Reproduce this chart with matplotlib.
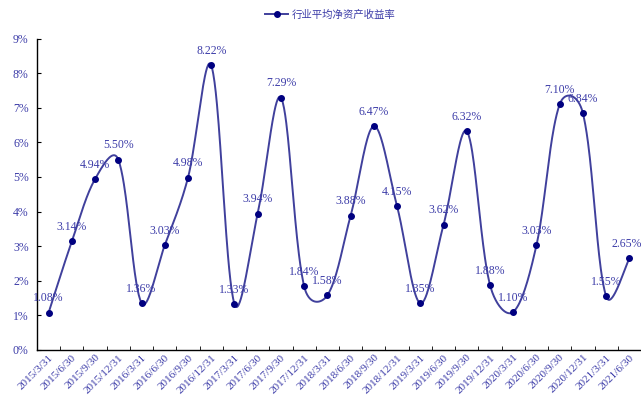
import numpy as np
import matplotlib
matplotlib.use("Agg")
import matplotlib.pyplot as plt

dates = ["2015/3/31", "2015/6/30", "2015/9/30", "2015/12/31",
         "2016/3/31", "2016/6/30", "2016/9/30", "2016/12/31",
         "2017/3/31", "2017/6/30", "2017/9/30", "2017/12/31",
         "2018/3/31", "2018/6/30", "2018/9/30", "2018/12/31",
         "2019/3/31", "2019/6/30", "2019/9/30", "2019/12/31",
         "2020/3/31", "2020/6/30", "2020/9/30", "2020/12/31",
         "2021/3/31", "2021/6/30"]
roe = [1.08, 3.14, 4.94, 5.50, 1.36, 3.03, 4.98, 8.22,
       1.33, 3.94, 7.29, 1.84, 1.58, 3.88, 6.47, 4.15,
       1.35, 3.62, 6.32, 1.88, 1.10, 3.03, 7.10, 6.84,
       1.55, 2.65]
series_name = "行业平均净资产收益率"

line_c = "#40409c"
dot_c = "#000080"
txt_c = "#3c3ca8"
serif = ["Liberation Serif", "DejaVu Serif"]

# smoothed line, Excel-like: Bezier, tangents partly weighted by chord length
# (worked out in pixel units, then scaled back)
sx, sy = 23.3, 34.6
x = np.arange(len(roe), dtype=float)
y = np.array(roe, dtype=float)
P = np.column_stack([x * sx, y * sy])
Pp = np.vstack([P[0], P, P[-1]])
t = np.linspace(0, 1, 40)[:, None]
seg = []
for i in range(len(P) - 1):
    p0, p1, p2, p3 = Pp[i], Pp[i + 1], Pp[i + 2], Pp[i + 3]
    d01 = np.linalg.norm(p1 - p0)
    d12 = np.linalg.norm(p2 - p1)
    d23 = np.linalg.norm(p3 - p2)
    f1 = d12 / (d01 + d12) if d01 > 0 else 0.5
    f2 = d12 / (d12 + d23) if d23 > 0 else 0.5
    f1 = 0.5 * (f1 + 0.5)
    f2 = 0.5 * (f2 + 0.5)
    c1 = p1 + (p2 - p0) * f1 / 3
    c2 = p2 - (p3 - p1) * f2 / 3
    b = ((1 - t) ** 3) * p1 + 3 * ((1 - t) ** 2) * t * c1 + 3 * (1 - t) * t ** 2 * c2 + t ** 3 * p2
    seg.append(b)
curve = np.vstack(seg)
curve = curve / np.array([sx, sy])

fig = plt.figure(figsize=(6.41, 4.0), dpi=100)
ax = fig.add_axes([37 / 641, 50 / 400, 604 / 641, 311.5 / 400])

ax.plot(curve[:, 0], curve[:, 1], color=line_c, lw=1.4, zorder=2)
ax.plot(x, y, "o", color=dot_c, ms=4, zorder=3)
ax.plot([], [], "-o", color=line_c, mfc=dot_c, mec=dot_c, ms=4, lw=1.4, label=series_name)

for xi, yi in zip(x, y):
    dx = -2 if xi == x[-1] else 0
    ax.annotate(f"{yi:.2f}%", (xi, yi), xytext=(dx, 6), textcoords="offset points",
                ha="center", va="bottom", color=txt_c, fontsize=8.5, family=serif,
                annotation_clip=False)

ax.set_xlim(-0.5, len(roe) - 0.5)
ax.set_ylim(0, 9)
ax.set_yticks(range(0, 10))
ax.set_yticklabels([f"{v}%" for v in range(0, 10)], color=txt_c, fontsize=8.5, family=serif)
ax.set_xticks(x)
ax.set_xticklabels(dates, rotation=45, ha="right", rotation_mode="anchor",
                   color=txt_c, fontsize=8, family=serif)
ax.set_xticks(np.arange(0.5, len(roe) - 0.5, 1), minor=True)
ax.tick_params(axis="x", which="major", length=0, pad=2)
ax.tick_params(axis="x", which="minor", direction="in", length=3, color="black")
ax.tick_params(axis="y", direction="in", length=3, pad=6, color="black")
for s in ["top", "right"]:
    ax.spines[s].set_visible(False)
for s in ["left", "bottom"]:
    ax.spines[s].set_color("black")
    ax.spines[s].set_linewidth(1.0)

leg = fig.legend(loc="upper center", bbox_to_anchor=(0.515, 1.0), frameon=False,
                 prop={"family": ["Noto Sans CJK SC", "DejaVu Sans"], "size": 7.5},
                 handlelength=2.2, handletextpad=0.3)
for tx in leg.get_texts():
    tx.set_color(txt_c)

fig.savefig("out.png", dpi=100)
